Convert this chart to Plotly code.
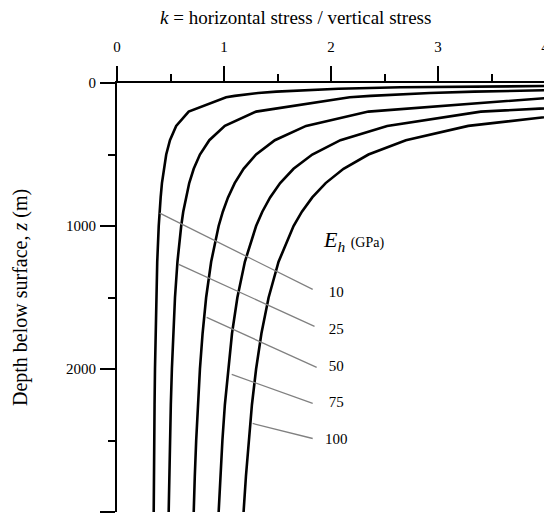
import plotly.graph_objects as go

# ---- data ----
depth_m = [15, 20, 30, 40, 50, 60, 70, 80, 90, 100, 200, 300, 400, 500, 600, 700,
           800, 900, 1000, 1250, 1500, 1750, 2000, 2250, 2500, 2750, 3000]

k_eh10 = [4.99, 3.82, 2.65, 2.07, 1.72, 1.49, 1.32, 1.195, 1.10, 1.02, 0.67, 0.553,
          0.495, 0.46, 0.437, 0.42, 0.408, 0.398, 0.39, 0.376, 0.367, 0.36, 0.355,
          0.351, 0.348, 0.345, 0.343]
k_eh25 = [None, None, None, 4.80, 3.925, 3.34, 2.925, 2.61, 2.37, 2.175, 1.30, 1.008,
          0.863, 0.775, 0.717, 0.675, 0.644, 0.619, 0.60, 0.565, 0.542, 0.525, 0.513,
          0.503, 0.495, 0.489, 0.483]
k_eh50 = [None, None, None, None, None, None, None, 4.975, 4.49, 4.10, 2.35, 1.767,
          1.475, 1.30, 1.183, 1.10, 1.0375, 0.989, 0.95, 0.88, 0.833, 0.80, 0.775,
          0.756, 0.74, 0.727, 0.717]
k_eh75 = [None, None, None, None, None, None, None, None, None, 6.025, 3.40, 2.525,
          2.088, 1.825, 1.65, 1.525, 1.431, 1.358, 1.30, 1.195, 1.125, 1.075, 1.038,
          1.008, 0.985, 0.966, 0.95]
k_eh100 = [None, None, None, None, None, None, None, None, None, 7.95, 4.45, 3.283,
           2.70, 2.35, 2.117, 1.95, 1.825, 1.728, 1.65, 1.51, 1.417, 1.35, 1.30,
           1.261, 1.23, 1.205, 1.183]

eh_labels = ["10", "25", "50", "75", "100"]
leader_start_k = [0.399, 0.577, 0.838, 1.072, 1.268]
leader_start_z = [910, 1268, 1639, 2038, 2381]
leader_end_k = [1.829, 1.846, 1.866, 1.829, 1.829]
leader_end_z = [1443, 1702, 1989, 2241, 2486]
label_k = [2.05, 2.05, 2.05, 2.05, 2.05]
label_z = [1470, 1730, 1989, 2241, 2500]

x_ticks = [0, 1, 2, 3, 4]
y_ticks = [0, 1000, 2000, 3000]

SERIF = "Liberation Serif, Times New Roman, serif"

fig = go.Figure()

for ks in [k_eh10, k_eh25, k_eh50, k_eh75, k_eh100]:
    fig.add_trace(go.Scatter(x=ks, y=depth_m, mode="lines",
                             line=dict(color="black", width=2.6),
                             showlegend=False, hoverinfo="skip"))

for i in range(len(eh_labels)):
    fig.add_trace(go.Scatter(x=[leader_start_k[i], leader_end_k[i]],
                             y=[leader_start_z[i], leader_end_z[i]],
                             mode="lines", line=dict(color="#808080", width=1.3),
                             showlegend=False, hoverinfo="skip"))

fig.add_trace(go.Scatter(x=label_k, y=label_z, mode="text", text=eh_labels,
                         textfont=dict(family=SERIF, size=15, color="black"),
                         textposition="middle center", showlegend=False,
                         hoverinfo="skip", cliponaxis=False))

fig.add_annotation(x=2.21, y=1106, xref="x", yref="y", showarrow=False,
                   text="<i>E</i><sub><i>h</i></sub> <span style='font-size:14px'>(GPa)</span>",
                   font=dict(family=SERIF, size=22, color="black"))

fig.add_annotation(x=0.418, y=1.1538, xref="paper", yref="paper", showarrow=False,
                   text="<i>k</i> = horizontal stress / vertical stress",
                   font=dict(family=SERIF, size=19, color="black"),
                   xanchor="center", yanchor="middle")
fig.add_annotation(x=-0.224, y=0.499, xref="paper", yref="paper", showarrow=False,
                   text="Depth below surface, <i>z</i> (m)", textangle=-90,
                   font=dict(family=SERIF, size=20, color="black"),
                   xanchor="center", yanchor="middle")

fig.update_layout(
    width=560, height=515,
    margin=dict(l=117, r=15, t=83, b=3),
    paper_bgcolor="white", plot_bgcolor="white",
    xaxis=dict(side="top", range=[0, 4], tickvals=x_ticks,
               showgrid=False, zeroline=False,
               showline=True, linecolor="black", linewidth=2,
               ticks="outside", ticklen=15, tickwidth=2, tickcolor="black",
               minor=dict(dtick=0.5, ticks="outside", ticklen=7, tickwidth=2,
                          tickcolor="black", showgrid=False),
               ticklabelstandoff=8,
               tickfont=dict(family=SERIF, size=15, color="black")),
    yaxis=dict(range=[3000, 0], tickvals=y_ticks,
               showgrid=False, zeroline=False,
               showline=True, linecolor="black", linewidth=2,
               ticks="outside", ticklen=15, tickwidth=2, tickcolor="black",
               minor=dict(dtick=500, ticks="outside", ticklen=7, tickwidth=2,
                          tickcolor="black", showgrid=False),
               ticklabelstandoff=1,
               tickfont=dict(family=SERIF, size=15, color="black")),
)

fig.write_html("out.html",
               config={"displayModeBar": False},
               post_script="document.body.style.margin='0';"
                           "document.body.style.overflow='hidden';"
                           "document.documentElement.style.overflow='hidden';")
